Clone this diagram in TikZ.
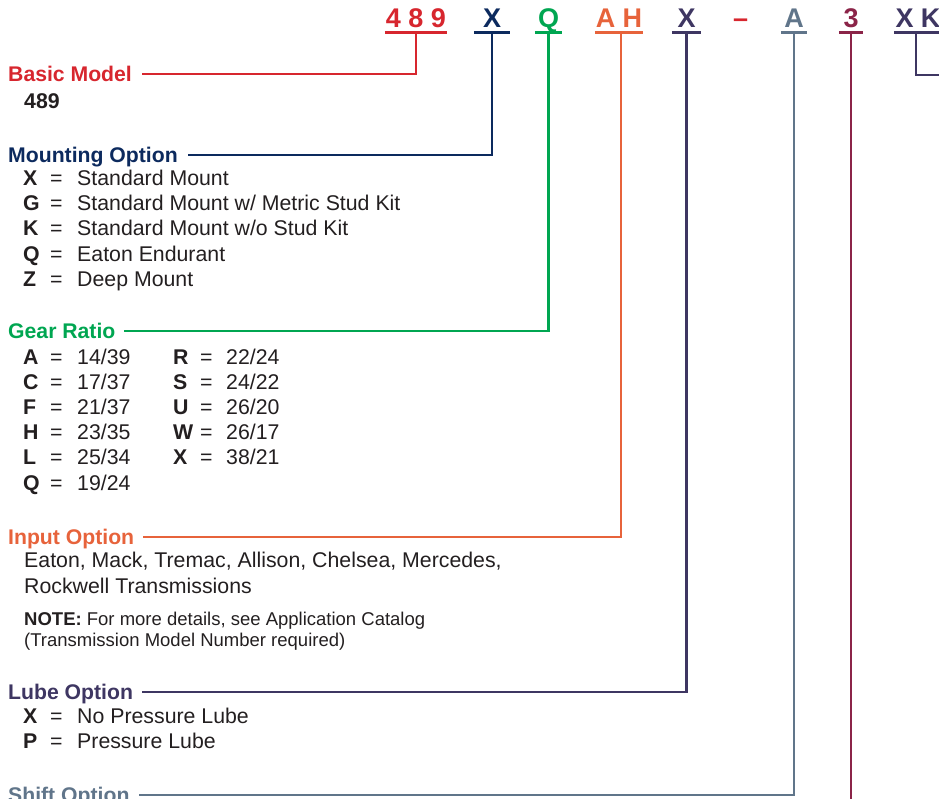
\documentclass[tikz,border=0pt]{standalone}
\usepackage{fontspec}
\setmainfont{Liberation Sans}
\usetikzlibrary{positioning}
\definecolor{basicred}{RGB}{215,38,46}
\definecolor{mountblue}{RGB}{12,42,94}
\definecolor{geargreen}{RGB}{0,166,81}
\definecolor{inputorange}{RGB}{231,99,59}
\definecolor{lubepurple}{RGB}{62,54,98}
\definecolor{shiftslate}{RGB}{96,117,138}
\definecolor{threemaroon}{RGB}{139,36,72}
\definecolor{bodygray}{RGB}{35,31,32}
\tikzset{
  codechar/.style={font=\fontsize{27}{27}\selectfont\bfseries, anchor=base,
    text height=19pt, text depth=0pt, inner xsep=0pt, inner ysep=5pt},
  head/.style={font=\fontsize{21.2}{21}\selectfont\bfseries, anchor=west,
    text height=15pt, text depth=0pt, inner sep=0pt},
  keyletter/.style={font=\fontsize{21.3}{21}\selectfont\bfseries, anchor=base west,
    inner sep=0pt, text=bodygray},
  eqsign/.style={font=\fontsize{21.3}{21}\selectfont, anchor=base west,
    inner sep=0pt, text=bodygray},
  entry/.style={font=\fontsize{21.3}{21}\selectfont, anchor=base west,
    inner sep=0pt, text=bodygray},
  notetext/.style={font=\fontsize{18.5}{18}\selectfont, anchor=base west,
    inner sep=0pt, text=bodygray},
  link/.style={line width=2.9pt},
}
\begin{document}
\begin{tikzpicture}[x=1pt,y=-1pt]
\useasboundingbox (0,0) rectangle (939,798);
% part number
\node[codechar, text=basicred, minimum width=62pt] (cBasic) at (416,27) {4 8 9};
\node[codechar, text=mountblue, minimum width=36pt] (cMount) at (492,27) {X};
\node[codechar, text=geargreen, minimum width=27pt] (cGear) at (548.5,27) {Q};
\node[codechar, text=inputorange, minimum width=48pt] (cInput) at (619,27) {A H};
\node[codechar, text=lubepurple, minimum width=29pt] (cLube) at (686.5,27) {X};
\node[codechar, text=basicred] (cDash) at (740.5,27) {–};
\node[codechar, text=shiftslate, minimum width=26pt] (cShift) at (794,27) {A};
\node[codechar, text=threemaroon, minimum width=24pt] (cThree) at (851,27) {3};
\node[codechar, text=lubepurple, minimum width=48pt] (cXK) at (918,27) {X K};
\coordinate (endThree) at (851,810);
\coordinate (endXK) at (950,75);
% headings
\node[head, text=basicred] (hBasic) at (8,74) {Basic Model};
\node[head, text=mountblue] (hMount) at (8,155) {Mounting Option};
\node[head, text=geargreen] (hGear) at (8,331) {Gear Ratio};
\node[head, text=inputorange] (hInput) at (8,537) {Input Option};
\node[head, text=lubepurple] (hLube) at (8,692) {Lube Option};
\node[head, text=shiftslate] (hShift) at (8,795) {Shift Option};
% connectors
\draw[link, basicred] (cBasic.south west) -- (cBasic.south east);
\draw[link, basicred] (cBasic.south) |- ([xshift=10pt]hBasic.east);
\draw[link, mountblue] (cMount.south west) -- (cMount.south east);
\draw[link, mountblue] (cMount.south) |- ([xshift=10pt]hMount.east);
\draw[link, geargreen] (cGear.south west) -- (cGear.south east);
\draw[link, geargreen] (cGear.south) |- ([xshift=8pt]hGear.east);
\draw[link, inputorange] (cInput.south west) -- (cInput.south east);
\draw[link, inputorange] ([xshift=2pt]cInput.south) |- ([xshift=9pt]hInput.east);
\draw[link, lubepurple] (cLube.south west) -- (cLube.south east);
\draw[link, lubepurple] (cLube.south) |- ([xshift=9pt]hLube.east);
\draw[link, shiftslate] (cShift.south west) -- (cShift.south east);
\draw[link, shiftslate] (cShift.south) |- ([xshift=9pt]hShift.east);
\draw[link, threemaroon] (cThree.south west) -- (cThree.south east);
\draw[link, threemaroon] (cThree.south) -- (endThree);
\draw[link, lubepurple] (cXK.south west) -- (cXK.south east);
\draw[link, lubepurple] ([xshift=-2pt]cXK.south) |- (endXK);
% basic model
\node[keyletter] (bModel) at (24,108) {489};
% mounting
\foreach \k/\v [count=\i] in {X/Standard Mount, G/{Standard Mount w/ Metric Stud Kit},
    K/{Standard Mount w/o Stud Kit}, Q/Eaton Endurant, Z/Deep Mount}{
  \node[keyletter] (mk\i) at (23,{185+25.35*(\i-1)}) {\k};
  \node[eqsign] (me\i) at (50,{185+25.35*(\i-1)}) {=};
  \node[entry] (mv\i) at (77,{185+25.35*(\i-1)}) {\v};
}
% gear ratio
\foreach \k/\v [count=\i] in {A/{14/39}, C/{17/37}, F/{21/37}, H/{23/35}, L/{25/34}, Q/{19/24}}{
  \node[keyletter] (gk\i) at (23,{364+25.2*(\i-1)}) {\k};
  \node[eqsign] (ge\i) at (50,{364+25.2*(\i-1)}) {=};
  \node[entry] (gv\i) at (77,{364+25.2*(\i-1)}) {\v};
}
\foreach \k/\v [count=\i] in {R/{22/24}, S/{24/22}, U/{26/20}, W/{26/17}, X/{38/21}}{
  \node[keyletter] (rk\i) at (173,{364+25.2*(\i-1)}) {\k};
  \node[eqsign] (re\i) at (200,{364+25.2*(\i-1)}) {=};
  \node[entry] (rv\i) at (226,{364+25.2*(\i-1)}) {\v};
}
% input
\node[entry] (iText1) at (24,567) {Eaton, Mack, Tremac, Allison, Chelsea, Mercedes,};
\node[entry] (iText2) at (24,593) {Rockwell Transmissions};
\node[notetext] (iNote1) at (24,625) {\textbf{NOTE:} For more details, see Application Catalog};
\node[notetext] (iNote2) at (24,646) {(Transmission Model Number required)};
% lube
\foreach \k/\v [count=\i] in {X/No Pressure Lube, P/Pressure Lube}{
  \node[keyletter] (lk\i) at (23,{723+25.3*(\i-1)}) {\k};
  \node[eqsign] (le\i) at (50,{723+25.3*(\i-1)}) {=};
  \node[entry] (lv\i) at (77,{723+25.3*(\i-1)}) {\v};
}
\end{tikzpicture}
\end{document}
